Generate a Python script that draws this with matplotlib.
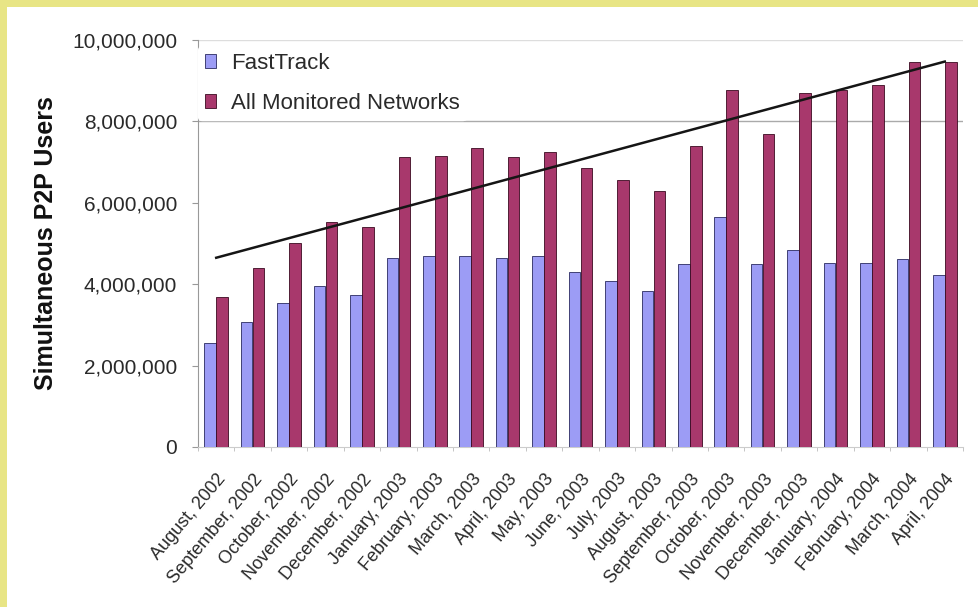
import matplotlib
matplotlib.use("Agg")
import matplotlib.pyplot as plt
import numpy as np
from matplotlib.patches import Rectangle

categories = ["August, 2002", "September, 2002", "October, 2002", "November, 2002",
              "December, 2002", "January, 2003", "February, 2003", "March, 2003",
              "April, 2003", "May, 2003", "June, 2003", "July, 2003", "August, 2003",
              "September, 2003", "October, 2003", "November, 2003", "December, 2003",
              "January, 2004", "February, 2004", "March, 2004", "April, 2004"]
fasttrack = [2550000, 3070000, 3540000, 3960000, 3730000, 4640000, 4690000, 4690000,
             4640000, 4690000, 4310000, 4080000, 3830000, 4500000, 5650000, 4500000,
             4840000, 4520000, 4520000, 4620000, 4230000]
all_networks = [3680000, 4400000, 5010000, 5530000, 5410000, 7130000, 7150000, 7350000,
                7120000, 7250000, 6850000, 6570000, 6290000, 7400000, 8770000, 7690000,
                8710000, 8770000, 8900000, 9460000, 9460000]
trend_values = [4650000, 9470000]
yticks = [0, 2000000, 4000000, 6000000, 8000000, 10000000]
ytick_labels = ["0", "2,000,000", "4,000,000", "6,000,000", "8,000,000", "10,000,000"]

plt.rcParams['font.family'] = ['Liberation Sans', 'DejaVu Sans']

fig = plt.figure(figsize=(9.79, 6.07), dpi=100)
fig.patch.set_facecolor('#E8E585')
bg = Rectangle((7/979, 0), 1 - 7/979, 1 - 7/607, transform=fig.transFigure,
               facecolor='white', edgecolor='none', zorder=-10)
fig.patches.append(bg)

ax = fig.add_axes([198/979, 1 - 447/607, (963 - 198)/979, (447 - 40)/607])
ax.set_zorder(5)
ax.set_facecolor('none')

x = np.arange(len(categories))
w = 0.32
ax.bar(x - w/2 - 0.005, fasttrack, width=w, color='#9C9CF5', edgecolor='#2a2a60',
       linewidth=0.6, label='FastTrack', zorder=3)
ax.bar(x + w/2 + 0.005, all_networks, width=w, color='#A8386C', edgecolor='#3a0a20',
       linewidth=0.6, label='All Monitored Networks', zorder=3)

ax.plot([x[0], x[-1]], trend_values, color='#151515', linewidth=1.8, zorder=4)

for yv in [8000000, 10000000]:
    ax.axhline(yv, color='#aaaaaa' if yv == 8000000 else '#dddddd', linewidth=1.0, zorder=1)

ax.set_xlim(-0.5, len(categories) - 0.5)
ax.set_ylim(0, 10000000)
ax.set_yticks(yticks)
ax.set_yticklabels(ytick_labels, fontsize=15, color='#2a2a2a')
ax.set_xticks(x)
ax.set_xticklabels(categories, rotation=50, ha='right', rotation_mode='anchor',
                   fontsize=13, color='#2a2a2a')
ax.tick_params(axis='x', length=0, pad=17)
ax.tick_params(axis='y', length=4, color='#999999', pad=11)
ax.set_xticks(np.arange(-0.5, len(categories), 1), minor=True)
ax.tick_params(axis='x', which='minor', length=3, color='#bbbbbb')

for s in ['top', 'right']:
    ax.spines[s].set_visible(False)
ax.spines['left'].set_color('#999999')
ax.spines['bottom'].set_color('#cccccc')

ax.set_ylabel('Simultaneous P2P Users', fontsize=18, fontweight='bold', labelpad=10,
              color='#111111')

leg = ax.legend(loc='upper left', bbox_to_anchor=(0.0, 0.985), fontsize=16, frameon=True,
                handlelength=0.5, handleheight=0.6, handletextpad=0.7, borderpad=0.3,
                labelspacing=0.85, borderaxespad=0.0)
leg.get_frame().set_facecolor('white')
leg.get_frame().set_edgecolor('white')
leg.get_frame().set_alpha(1)
leg.set_zorder(5)
for t in leg.get_texts():
    t.set_color('#2a2a2a')

fig.savefig('out.png', dpi=100, facecolor=fig.get_facecolor())
